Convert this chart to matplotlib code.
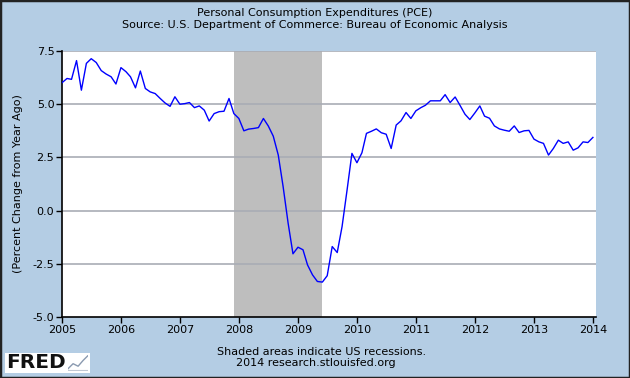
import numpy as np
import pandas as pd
import matplotlib
matplotlib.use("Agg")
import matplotlib.pyplot as plt
from matplotlib.patches import Rectangle

# PCE, percent change from year ago, monthly Jan 2005 - Jan 2014
pce = [6.01, 6.21, 6.17, 7.05, 5.66, 6.92, 7.14, 6.96, 6.58, 6.42, 6.29, 5.95,
       6.72, 6.53, 6.29, 5.77, 6.56, 5.74, 5.58, 5.50, 5.27, 5.06, 4.90, 5.35,
       5.00, 5.03, 5.08, 4.84, 4.92, 4.72, 4.21, 4.56, 4.65, 4.67, 5.27, 4.56,
       4.33, 3.75, 3.83, 3.86, 3.90, 4.33, 3.98, 3.50, 2.61, 1.13, -0.59, -2.03,
       -1.72, -1.84, -2.55, -3.02, -3.33, -3.36, -3.06, -1.69, -1.97, -0.75, 0.97, 2.69,
       2.25, 2.72, 3.63, 3.73, 3.84, 3.66, 3.59, 2.92, 4.02, 4.22, 4.61, 4.33,
       4.69, 4.84, 4.95, 5.16, 5.16, 5.16, 5.45, 5.08, 5.34, 4.95, 4.53, 4.28,
       4.59, 4.92, 4.44, 4.34, 3.98, 3.84, 3.78, 3.73, 3.98, 3.67, 3.75, 3.77,
       3.36, 3.23, 3.16, 2.61, 2.92, 3.31, 3.16, 3.23, 2.84, 2.95, 3.23, 3.20,
       3.44]
dates = pd.date_range("2005-01-01", periods=len(pce), freq="MS")
recession = ("2007-12-01", "2009-06-01")
years = list(range(2005, 2015))
yticks = [-5.0, -2.5, 0.0, 2.5, 5.0, 7.5]

bg = "#b4cde4"
fig = plt.figure(figsize=(6.3, 3.78), dpi=100, facecolor=bg)
ax = fig.add_axes([0.0984, 0.1614, 0.8476, 0.7036])
ax.set_facecolor("white")

ax.axvspan(pd.Timestamp(recession[0]), pd.Timestamp(recession[1]),
           color="#bebebe", lw=0, zorder=1)
for v in yticks[1:]:
    ax.axhline(v, color="#a9adb5", lw=1.2, zorder=2)
ax.plot(dates, pce, color="#0000ff", lw=1.0, zorder=3)

ax.set_xlim(pd.Timestamp("2005-01-01"), pd.Timestamp("2014-01-20"))
ax.set_ylim(-5.0, 7.5)
ax.set_yticks(yticks)
ax.set_yticklabels([f"{v:.1f}" for v in yticks])
ax.set_xticks([pd.Timestamp(f"{y}-01-01") for y in years])
ax.set_xticklabels([str(y) for y in years])
ax.tick_params(labelsize=8, length=4, width=1, color="black", pad=1.5)
for s in ["top", "right"]:
    ax.spines[s].set_visible(False)
for s in ["left", "bottom"]:
    ax.spines[s].set_linewidth(1.2)
ax.set_ylabel("(Percent Change from Year Ago)", fontsize=8, labelpad=7)

fig.text(0.5, 0.966, "Personal Consumption Expenditures (PCE)", ha="center", va="center", fontsize=8)
fig.text(0.5, 0.933, "Source: U.S. Department of Commerce: Bureau of Economic Analysis",
         ha="center", va="center", fontsize=8)
fig.text(0.51, 0.070, "Shaded areas indicate US recessions.", ha="center", va="center", fontsize=8)
fig.text(0.502, 0.039, "2014 research.stlouisfed.org", ha="center", va="center", fontsize=8)

# FRED logo
fig.patches.append(Rectangle((0.008, 0.013), 0.135, 0.053, transform=fig.transFigure,
                             facecolor="white", edgecolor="none", zorder=0.5))
fig.text(0.010, 0.040, "FRED", fontsize=14.5, fontweight="bold", va="center", ha="left",
         color="#111111")
lg = fig.add_axes([0.108, 0.018, 0.032, 0.044], zorder=2)
lg.patch.set_alpha(0)
lg.plot([0, 1, 2, 3, 4], [0.15, 0.45, 0.3, 0.65, 0.95], color="#8a9ab0", lw=1.0)
lg.plot([0, 4], [0.1, 0.1], color="#c0c8d4", lw=0.8)
lg.set_xlim(0, 4)
lg.set_ylim(0, 1)
lg.axis("off")

# dark frame
fig.patches.append(Rectangle((0, 0), 1, 1, transform=fig.transFigure, fill=False,
                             edgecolor="#222222", lw=2.5, zorder=5))

fig.savefig("out.png", dpi=100, facecolor=bg)
